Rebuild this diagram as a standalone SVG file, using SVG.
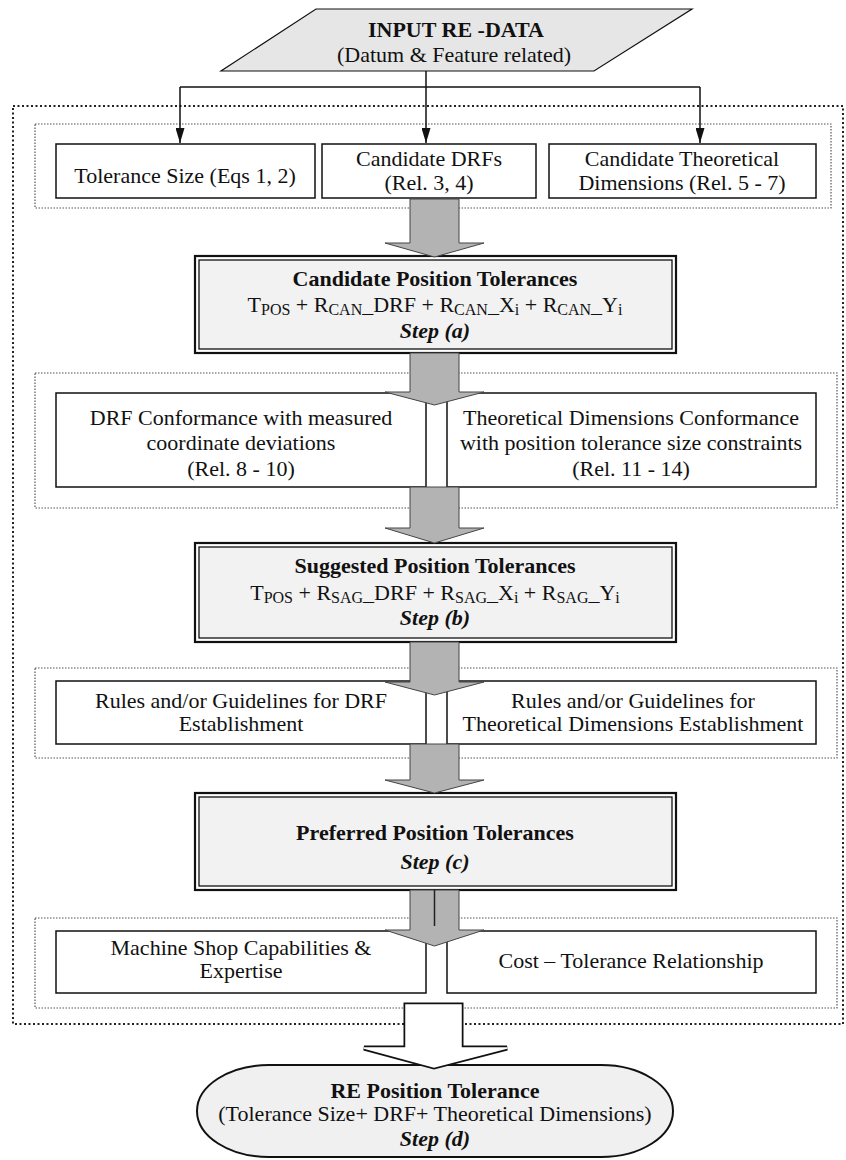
<svg xmlns="http://www.w3.org/2000/svg" width="846" height="1160" viewBox="0 0 846 1160">
<defs>
<style>
text{font-family:"Liberation Serif","Times New Roman",serif;font-size:22px;fill:#111;text-anchor:middle}
.b{font-weight:bold}
.st{font-weight:bold;font-style:italic}
.sub{font-size:16px}
.box{fill:#fff;stroke:#111;stroke-width:1.5}
.outer{fill:none;stroke:#222;stroke-width:2;stroke-dasharray:2 2.5}
.inner{fill:none;stroke:#555;stroke-width:1.2;stroke-dasharray:1.5 1.5}
.stepo{fill:#fff;stroke:#111;stroke-width:2.2}
.stepi{fill:#f2f2f2;stroke:#111;stroke-width:1.3}
.garrow{fill:#b3b3b3;stroke:#444;stroke-width:1}
.line{fill:none;stroke:#111;stroke-width:1.5}
</style>
<marker id="ah" markerWidth="15" markerHeight="9" refX="15" refY="4.5" orient="auto" markerUnits="userSpaceOnUse" viewBox="0 0 15 9">
<path d="M0,0 L15,4.5 L0,9 Z" fill="#111"/>
</marker>
</defs>
<rect width="846" height="1160" fill="#fff"/>

<!-- dotted grouping frames -->
<g id="frames">
<rect class="outer" x="13" y="106" width="830" height="918"/>
<rect class="inner" x="35" y="124" width="796" height="84"/>
<rect class="inner" x="35" y="373" width="802" height="135"/>
<rect class="inner" x="35" y="668" width="802" height="90"/>
<rect class="inner" x="35" y="918" width="802" height="90"/>
</g>

<g id="input">
<polygon points="316,9 692,9 594,71 221,71" fill="#e6e6e6" stroke="#111" stroke-width="1.2"/>
<text class="b" x="456" y="37">INPUT RE -DATA</text>
<text x="454" y="62">(Datum &amp; Feature related)</text>
</g>

<g id="tolsize">
<rect class="box" x="56" y="144" width="259" height="54"/>
<text x="185" y="183">Tolerance Size (Eqs 1, 2)</text>
</g>
<g id="candDRF">
<rect class="box" x="322" y="144" width="214" height="54"/>
<text x="429" y="166">Candidate DRFs</text>
<text x="429" y="190">(Rel. 3, 4)</text>
</g>
<g id="candTD">
<rect class="box" x="549" y="144" width="267" height="54"/>
<text x="682" y="166">Candidate Theoretical</text>
<text x="682" y="190">Dimensions (Rel. 5 - 7)</text>
</g>

<g id="stepA">
<rect class="stepo" x="195" y="256" width="481" height="97"/>
<rect class="stepi" x="199" y="260" width="473" height="89"/>
<text class="b" x="435" y="286">Candidate Position Tolerances</text>
<text x="435" y="312">T<tspan class="sub" dy="3">POS</tspan><tspan dy="-3"> + R</tspan><tspan class="sub" dy="3">CAN</tspan><tspan dy="-3">_DRF + R</tspan><tspan class="sub" dy="3">CAN</tspan><tspan dy="-3">_X</tspan><tspan class="sub" dy="3">i</tspan><tspan dy="-3"> + R</tspan><tspan class="sub" dy="3">CAN</tspan><tspan dy="-3">_Y</tspan><tspan class="sub" dy="3">i</tspan></text>
<text class="st" x="435" y="338">Step (a)</text>
</g>

<g id="drfConf">
<rect class="box" x="56" y="393" width="370" height="94"/>
<text x="241" y="425">DRF Conformance with measured</text>
<text x="241" y="450">coordinate deviations</text>
<text x="241" y="476">(Rel. 8 - 10)</text>
</g>
<g id="tdConf">
<rect class="box" x="447" y="393" width="369" height="94"/>
<text x="631" y="425">Theoretical Dimensions Conformance</text>
<text x="631" y="450">with position tolerance size constraints</text>
<text x="631" y="476">(Rel. 11 - 14)</text>
</g>

<g id="stepB">
<rect class="stepo" x="195" y="543" width="481" height="99"/>
<rect class="stepi" x="199" y="547" width="473" height="91"/>
<text class="b" x="435" y="573">Suggested Position Tolerances</text>
<text x="435" y="600">T<tspan class="sub" dy="3">POS</tspan><tspan dy="-3"> + R</tspan><tspan class="sub" dy="3">SAG</tspan><tspan dy="-3">_DRF + R</tspan><tspan class="sub" dy="3">SAG</tspan><tspan dy="-3">_X</tspan><tspan class="sub" dy="3">i</tspan><tspan dy="-3"> + R</tspan><tspan class="sub" dy="3">SAG</tspan><tspan dy="-3">_Y</tspan><tspan class="sub" dy="3">i</tspan></text>
<text class="st" x="435" y="625">Step (b)</text>
</g>

<g id="rulesDRF">
<rect class="box" x="56" y="681" width="370" height="63"/>
<text x="241" y="708">Rules and/or Guidelines for DRF</text>
<text x="241" y="731">Establishment</text>
</g>
<g id="rulesTD">
<rect class="box" x="447" y="681" width="369" height="63"/>
<text x="633" y="708">Rules and/or Guidelines for</text>
<text x="633" y="731">Theoretical Dimensions Establishment</text>
</g>

<g id="stepC">
<rect class="stepo" x="195" y="793" width="481" height="97"/>
<rect class="stepi" x="199" y="797" width="473" height="89"/>
<text class="b" x="435" y="840">Preferred Position Tolerances</text>
<text class="st" x="435" y="869">Step (c)</text>
</g>

<g id="machine">
<rect class="box" x="56" y="931" width="370" height="62"/>
<text x="241" y="955">Machine Shop Capabilities &amp;</text>
<text x="241" y="978">Expertise</text>
</g>
<g id="cost">
<rect class="box" x="447" y="931" width="369" height="62"/>
<text x="631" y="968">Cost – Tolerance Relationship</text>
</g>

<g id="stepD">
<path d="M269,1065 H601 A72,46 0 0 1 601,1157 H269 A72,46 0 0 1 269,1065 Z" fill="#f0f0f0" stroke="#111" stroke-width="2"/>
<text class="b" x="435" y="1098">RE Position Tolerance</text>
<text x="435" y="1121">(Tolerance Size+ DRF+ Theoretical Dimensions)</text>
<text class="st" x="435" y="1146">Step (d)</text>
</g>

<g id="connectors">
<path class="line" d="M426,71 V87"/>
<path class="line" d="M180,87 H700"/>
<path class="line" d="M180,87 V143" marker-end="url(#ah)"/>
<path class="line" d="M426,87 V143" marker-end="url(#ah)"/>
<path class="line" d="M700,87 V143" marker-end="url(#ah)"/>
<polygon class="garrow" points="410,199 459,199 459,243 484,243 434.5,257 385,243 410,243"/>
<polygon class="garrow" points="410,353 459,353 459,392 484,392 434.5,405 385,392 410,392"/>
<polygon class="garrow" points="410,487 459,487 459,528 484,528 434.5,543 385,528 410,528"/>
<polygon class="garrow" points="410,642 459,642 459,682 484,682 434.5,695 385,682 410,682"/>
<polygon class="garrow" points="410,744 459,744 459,780 484,780 434.5,793 385,780 410,780"/>
<polygon class="garrow" points="410,890 459,890 459,930 484,930 434.5,946 385,930 410,930"/>
<path d="M434.5,890 V926" stroke="#222" stroke-width="1.5"/>
<polygon points="406,1005 461,1005 461,1048 507,1048 434,1067 364,1048 406,1048" fill="#fff" stroke="#111" stroke-width="5"/>
<polygon points="406,1005 461,1005 461,1048 507,1048 434,1067 364,1048 406,1048" fill="#fff" stroke="#fff" stroke-width="1.5"/>
</g>
</svg>
